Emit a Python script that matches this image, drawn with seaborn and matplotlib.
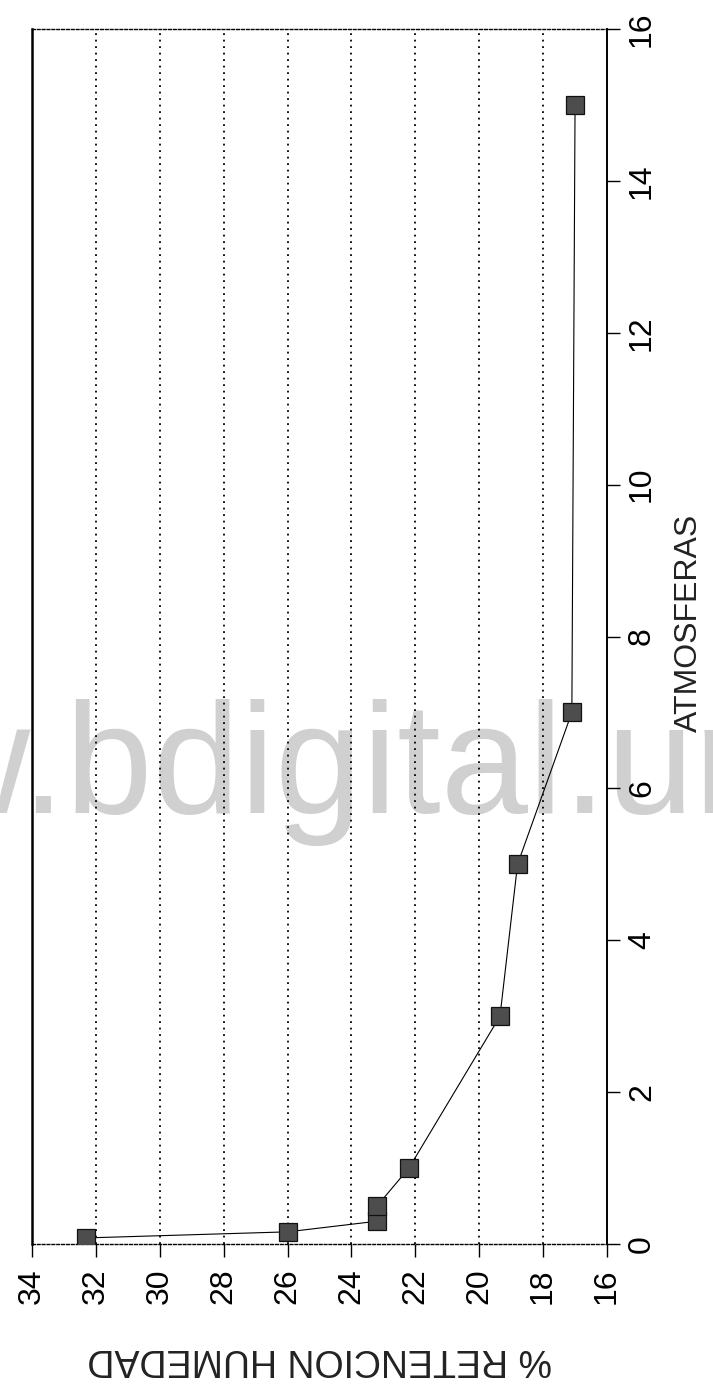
import matplotlib
matplotlib.use("Agg")
import matplotlib.pyplot as plt
import seaborn as sns
import pandas as pd

# Moisture retention curve: pressure (atm) vs. % moisture retained
atmosferas = [0.08, 0.16, 0.3, 0.5, 1.0, 3.0, 5.0, 7.0, 15.0]
humedad = [32.3, 26.0, 23.2, 23.2, 22.2, 19.35, 18.8, 17.1, 17.0]

hum_ticks = [34, 32, 30, 28, 26, 24, 22, 20, 18, 16]
atm_ticks = [0, 2, 4, 6, 8, 10, 12, 14, 16]

sns.set_theme(style="white")
plt.rcParams["font.family"] = ["Liberation Sans", "DejaVu Sans"]

W, H = 713, 1385
fig = plt.figure(figsize=(W / 100, H / 100), dpi=100)
fig.patch.set_facecolor("white")

# axes box in pixels: x 32..607, y 29..1244 (from top)
ax = fig.add_axes([32 / W, (H - 1244) / H, 575 / W, 1215 / H])
ax.set_facecolor("none")

df = pd.DataFrame({"humedad": humedad, "atmosferas": atmosferas})
sns.lineplot(data=df, x="humedad", y="atmosferas", sort=False, estimator=None,
             ax=ax, color="black", linewidth=0.8, marker="s", markersize=13,
             markerfacecolor="#4d4d4d", markeredgecolor="#111111",
             markeredgewidth=0.9, zorder=4)

ax.set_xlim(34, 16)
ax.set_ylim(0, 16)
ax.set_xticks(hum_ticks)
ax.set_xticklabels([str(t) for t in hum_ticks])
ax.set_yticks(atm_ticks)
ax.set_yticklabels([str(t) for t in atm_ticks])

# vertical dotted grid at humidity ticks
for h in hum_ticks[1:-1]:
    ax.axvline(h, color="black", linewidth=1.3, linestyle=(0, (1, 2.6)), zorder=1)

for side in ["left", "right"]:
    ax.spines[side].set_color("black")
    ax.spines[side].set_linestyle("-")
ax.spines["left"].set_linewidth(1.8)
ax.spines["right"].set_linewidth(1.4)
for side in ["top", "bottom"]:
    ax.spines[side].set_color("black")
    ax.spines[side].set_linewidth(1.0)
    ax.spines[side].set_linestyle((0, (2, 1.5)))

ax.yaxis.tick_right()
ax.yaxis.set_label_position("right")
ax.tick_params(axis="y", which="both", direction="out", length=9.4, width=1.0,
               pad=5, labelsize=23, labelrotation=90, colors="black", right=True, left=False)
ax.tick_params(axis="x", which="both", direction="out", length=9.4, width=1.0,
               pad=8, labelsize=23, labelrotation=90, colors="black", bottom=True, top=False)
for lbl in ax.get_yticklabels():
    lbl.set_va("center")
    lbl.set_ha("left")
for lbl in ax.get_xticklabels():
    lbl.set_va("top")
    lbl.set_ha("center")

ax.set_xlabel("% RETENCION HUMEDAD", fontsize=27, rotation=180, color="#222222")
ax.xaxis.set_label_coords(0.5, (1244 - 1359) / 1215)
ax.xaxis.label.set_va("center")
ax.xaxis.label.set_ha("center")

ax.set_ylabel("ATMOSFERAS", fontsize=23, rotation=90, color="#222222")
ax.yaxis.set_label_coords((689 - 32) / 575, (1244 - 623) / 1215)
ax.yaxis.label.set_va("center")
ax.yaxis.label.set_ha("center")
ax.yaxis.label.set_rotation_mode("default")

# repository watermark behind the plot
fig.text(-310 / W, (H - 813) / H, "www.bdigital.unal.edu.co", fontsize=113,
         color="#d0d0d0", ha="left", va="baseline", zorder=-1,
         family=["Liberation Sans", "DejaVu Sans"])

fig.savefig("out.png", dpi=100, facecolor="white")
